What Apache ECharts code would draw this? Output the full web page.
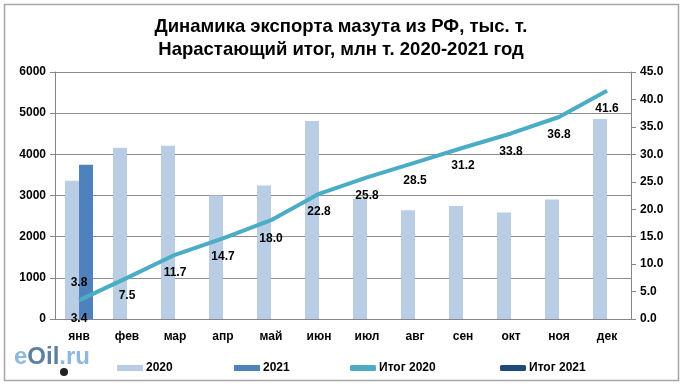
<!DOCTYPE html>
<html><head><meta charset="utf-8">
<script src="https://cdn.jsdelivr.net/npm/echarts@6/dist/echarts.min.js"></script>
<style>html,body{margin:0;padding:0;background:#fff}#c{width:682px;height:389px}</style>
</head><body><div id="c"></div>
<script>
const categories = ['янв','фев','мар','апр','май','июн','июл','авг','сен','окт','ноя','дек'];
const exp2020 = [3360,4160,4210,3000,3240,4810,2920,2640,2745,2590,2905,4860];
const exp2021 = [3750,null,null,null,null,null,null,null,null,null,null,null];
const total2020 = [3.4,7.5,11.7,14.7,18.0,22.8,25.8,28.5,31.2,33.8,36.8,41.6];
const total2021 = [3.8,null,null,null,null,null,null,null,null,null,null,null];
const leftTicks = {min:0,max:6000,interval:1000};
const rightTicks = {min:0,max:45,interval:5};

const F = 'Arial, "Liberation Sans", sans-serif';
const chart = echarts.init(document.getElementById('c'));
const lbl = {show:true, position:'bottom', distance:12, color:'#000', fontWeight:'bold', fontSize:12, fontFamily:F, formatter:p=>p.value==null?'':p.value.toFixed(1)};
const legTxt = {fontFamily:F, fontWeight:'bold', fontSize:12, color:'#000', padding:[0,0,0,-2]};
function leg(name, left, icon){
  return {top:357, left:left, itemWidth:26, itemHeight:6, icon:icon, textStyle:legTxt, data:[name]};
}
chart.setOption({
  animation:false,
  title:{text:'Динамика экспорта мазута из РФ, тыс. т.\nНарастающий итог, млн т. 2020-2021 год', left:'center', top:10,
    textStyle:{fontFamily:'"Liberation Sans Narrow", Arial, sans-serif', fontWeight:'bold', fontSize:18.5, lineHeight:23, color:'#000'}},
  grid:{left:55, right:51, top:72, bottom:70},
  legend:[leg('2020',112,'rect'), leg('2021',229,'rect'), leg('Итог 2020',345,'roundRect'), leg('Итог 2021',495,'roundRect')],
  xAxis:{type:'category', data:categories,
    axisLine:{lineStyle:{color:'#868686'}}, axisTick:{lineStyle:{color:'#868686'}, length:5},
    axisLabel:{color:'#000', fontWeight:'bold', fontSize:12, fontFamily:F, margin:12}},
  yAxis:[
    {type:'value', min:leftTicks.min, max:leftTicks.max, interval:leftTicks.interval,
      axisLine:{show:true, lineStyle:{color:'#868686'}}, axisTick:{show:true, length:5, lineStyle:{color:'#868686'}},
      splitLine:{lineStyle:{color:'#8c8c8c'}},
      axisLabel:{color:'#000', fontWeight:'bold', fontSize:12, fontFamily:F, margin:9, formatter:v=>String(v)}},
    {type:'value', min:rightTicks.min, max:rightTicks.max, interval:rightTicks.interval, position:'right',
      axisLine:{show:true, lineStyle:{color:'#868686'}}, axisTick:{show:true, length:5, lineStyle:{color:'#868686'}},
      splitLine:{show:false},
      axisLabel:{color:'#000', fontWeight:'bold', fontSize:12, fontFamily:F, margin:9, formatter:v=>v.toFixed(1)}}
  ],
  series:[
    {name:'2020', type:'bar', data:exp2020, barWidth:14, barGap:'0%', itemStyle:{color:'#b9cde5'}},
    {name:'2021', type:'bar', data:exp2021, barWidth:14, barGap:'0%', itemStyle:{color:'#4f81bd'}},
    {name:'Итог 2020', type:'line', yAxisIndex:1, data:total2020, symbol:'circle', symbolSize:0.1, showSymbol:true,
      lineStyle:{color:'#4bacc6', width:4}, itemStyle:{color:'#4bacc6'}, label:lbl, z:5},
    {name:'Итог 2021', type:'line', yAxisIndex:1, data:total2021, symbol:'circle', symbolSize:0.1,
      lineStyle:{color:'#1f497d', width:4}, itemStyle:{color:'#1f497d'},
      label:Object.assign({}, lbl, {position:'top', distance:9}), z:6}
  ],
  graphic:[
    {type:'rect', shape:{x:4.5, y:4.5, width:674, height:376}, style:{fill:null, stroke:'#a6a6a6', lineWidth:1.5}, silent:true},
    {type:'text', left:14, top:345, style:{text:'{a|e}{b|Oil}{a|.ru}', rich:{
      a:{fill:'#8fb8e0', fontSize:24, fontWeight:'bold', fontFamily:F},
      b:{fill:'#5f7f9f', fontSize:24, fontWeight:'bold', fontFamily:F}}}},
    {type:'circle', shape:{cx:64, cy:372, r:4}, style:{fill:'#222'}}
  ]
});
</script></body></html>
